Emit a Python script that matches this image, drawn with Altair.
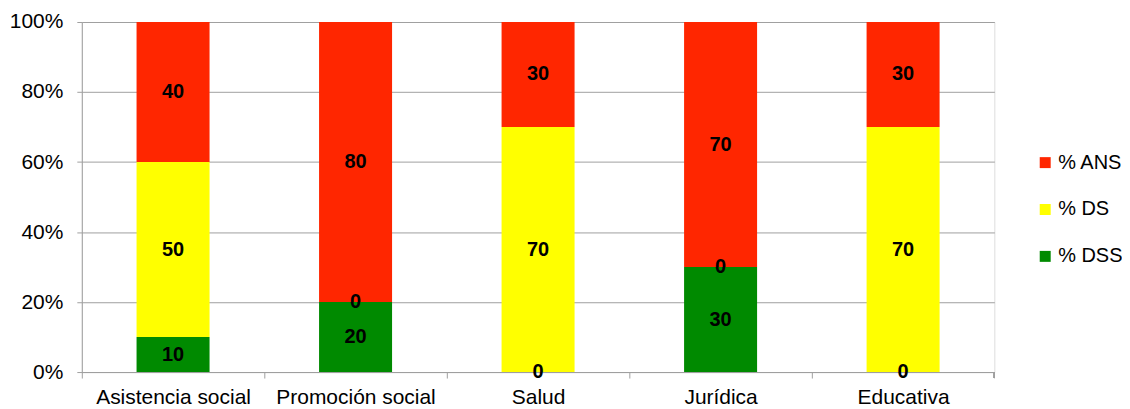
import altair as alt
import pandas as pd

categories = ["Asistencia social", "Promoción social", "Salud", "Jurídica", "Educativa"]
series = ["% ANS", "% DS", "% DSS"]
colors = ["#ff2600", "#ffff00", "#008a00"]
stack_order = {"% DSS": 0, "% DS": 1, "% ANS": 2}
dss = [10, 20, 0, 30, 0]
ds = [50, 0, 70, 0, 70]
ans = [40, 80, 30, 70, 30]

rows = []
for i, c in enumerate(categories):
    for s, vals in (("% DSS", dss), ("% DS", ds), ("% ANS", ans)):
        rows.append({"cat": c, "serie": s, "val": vals[i], "ord": stack_order[s]})
df = pd.DataFrame(rows)

FONT = "Liberation Sans"
FS = 21
W, H = 915, 351

base = alt.Chart(df).transform_stack(
    stack="val", groupby=["cat"], sort=[alt.SortField("ord")], as_=["v0", "v1"], offset="normalize"
).transform_calculate(mid="(datum.v0 + datum.v1) / 2")

xenc = alt.X(
    "cat:N", sort=categories, title=None,
    scale=alt.Scale(paddingInner=0.6, paddingOuter=0.3),
    axis=alt.Axis(labelAngle=0, labelFontSize=FS, labelFont=FONT, labelColor="#000",
                  domainColor="#a0a0a0", tickColor="#a0a0a0", tickSize=6,
                  tickOffset=-W / 10, labelOffset=W / 10, labelPadding=9, grid=False),
)

bars = base.mark_bar().encode(
    x=xenc,
    y=alt.Y("v0:Q", title=None, scale=alt.Scale(domain=[0, 1]),
            axis=alt.Axis(format="%", values=[0, 0.2, 0.4, 0.6, 0.8, 1.0], labelFontSize=FS,
                          labelFont=FONT, labelColor="#000", domainColor="#a0a0a0",
                          tickColor="#a0a0a0", tickSize=5, labelPadding=14,
                          gridColor="#a0a0a0", gridWidth=1)),
    y2="v1:Q",
    color=alt.Color("serie:N", scale=alt.Scale(domain=series, range=colors),
                    legend=alt.Legend(title=None, orient="none", legendX=956, legendY=131,
                                      symbolType="square", symbolSize=121, symbolStrokeWidth=0,
                                      labelFontSize=20, labelFont=FONT, labelColor="#000",
                                      rowPadding=27, labelOffset=3)),
)

labels = base.mark_text(fontWeight="bold", fontSize=20, font=FONT, color="#000").encode(
    x=alt.X("cat:N", sort=categories),
    y=alt.Y("mid:Q"),
    text=alt.Text("val:Q"),
)

endtick = alt.Chart(df).mark_rule(color="#a0a0a0").encode(
    x=alt.value(W), y=alt.value(H), y2=alt.value(H + 6)
)

chart = alt.layer(bars, labels, endtick).properties(
    width=W, height=H,
    padding={"left": 1, "top": 2.5, "right": -1, "bottom": 0},
).configure_view(stroke=None).configure(background="white")

chart.save("out.html", embed_options={"renderer": "svg", "actions": False})
